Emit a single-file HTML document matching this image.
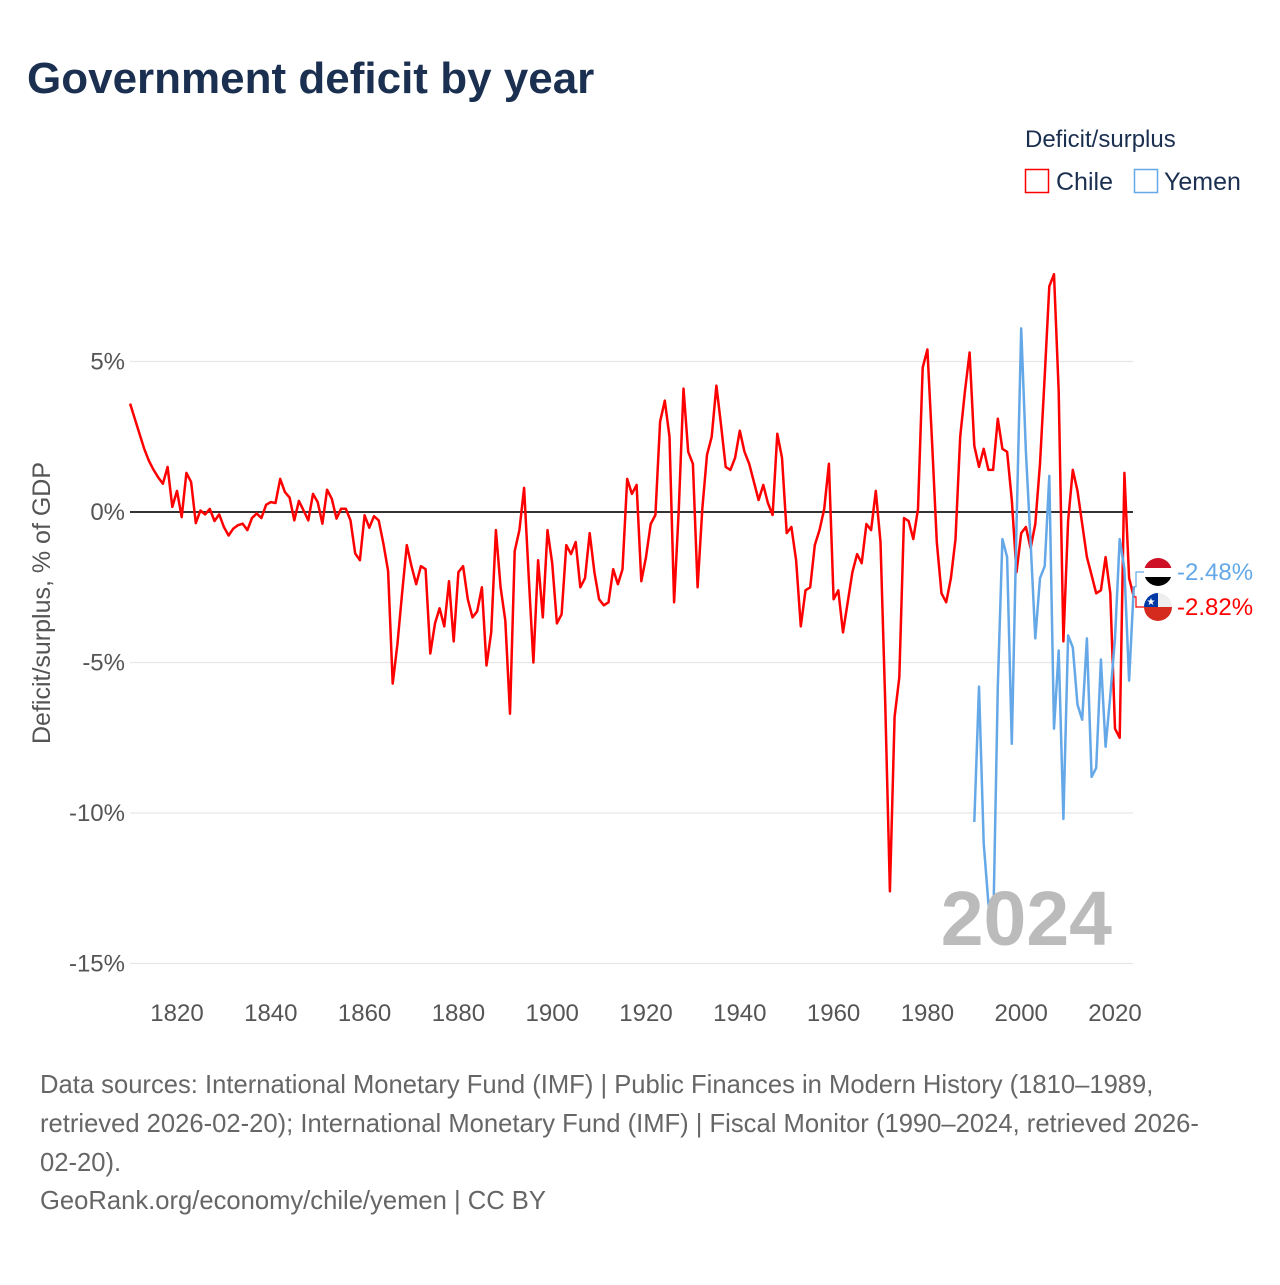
<!DOCTYPE html>
<html><head><meta charset="utf-8"><style>
body{margin:0;width:1280px;height:1280px;background:#fff;font-family:"Liberation Sans",sans-serif;overflow:hidden}
</style></head><body>
<svg id="chart" width="1280" height="1280" xmlns="http://www.w3.org/2000/svg" font-family="Liberation Sans, sans-serif">
<text x="27" y="93" font-size="44" font-weight="bold" fill="#1b3050">Government deficit by year</text>
<text x="1025" y="147" font-size="24" fill="#1b3050">Deficit/surplus</text>
<g><rect x="1025.5" y="169.5" width="23" height="23" fill="none" stroke="#ff0000" stroke-width="1.5"/><text x="1056" y="190" font-size="25" fill="#1b3050">Chile</text></g>
<g><rect x="1134.5" y="169.5" width="23" height="23" fill="none" stroke="#64a8e8" stroke-width="1.5"/><text x="1164" y="190" font-size="25" fill="#1b3050">Yemen</text></g>
<text transform="translate(50,603) rotate(-90)" text-anchor="middle" font-size="25" fill="#555">Deficit/surplus, % of GDP</text>
<g id="grid"></g><g id="lines"></g>
<text x="1112" y="945" text-anchor="end" font-size="77" font-weight="bold" fill="#bbb">2024</text>
<g id="ends"></g>
<g font-size="25.6" fill="#666">
<text x="40" y="1093">Data sources: International Monetary Fund (IMF) | Public Finances in Modern History (1810–1989,</text>
<text x="40" y="1132">retrieved 2026-02-20); International Monetary Fund (IMF) | Fiscal Monitor (1990–2024, retrieved 2026-</text>
<text x="40" y="1171">02-20).</text>
<text x="40" y="1209">GeoRank.org/economy/chile/yemen | CC BY</text>
</g>
</svg>
<script>
const yTicks=[5,0,-5,-10,-15];
const yTickLabels=["5%","0%","-5%","-10%","-15%"];
const xTicks=[1820,1840,1860,1880,1900,1920,1940,1960,1980,2000,2020];
const chileStart=1810;
const chileValues=[3.6,3.1,2.6,2.1,1.7,1.4,1.15,0.94,1.5,0.17,0.7,-0.17,1.3,1.0,-0.37,0.05,-0.08,0.1,-0.3,-0.08,-0.5,-0.78,-0.55,-0.44,-0.39,-0.6,-0.2,-0.05,-0.2,0.24,0.33,0.3,1.1,0.66,0.48,-0.28,0.37,0.05,-0.28,0.6,0.33,-0.39,0.74,0.44,-0.22,0.11,0.11,-0.28,-1.38,-1.6,-0.11,-0.52,-0.14,-0.28,-1.05,-1.96,-5.7,-4.4,-2.7,-1.1,-1.8,-2.4,-1.8,-1.9,-4.7,-3.7,-3.2,-3.8,-2.3,-4.3,-2.0,-1.8,-2.9,-3.5,-3.3,-2.5,-5.1,-4.0,-0.6,-2.5,-3.6,-6.7,-1.3,-0.6,0.8,
-2.2,-5.0,-1.6,-3.5,-0.6,-1.7,-3.7,-3.4,-1.1,-1.4,-1.0,-2.5,-2.2,-0.7,-2.0,-2.9,-3.1,-3.0,-1.9,-2.4,-1.9,1.1,0.6,0.9,-2.3,-1.5,-0.4,-0.1,3.0,3.7,2.5,-3.0,0.1,4.1,2.0,1.6,-2.5,0.1,1.9,2.5,4.2,2.9,1.5,1.4,1.8,2.7,2.0,1.6,1.0,0.4,0.9,0.3,-0.1,2.6,1.8,-0.7,-0.5,-1.6,-3.8,-2.6,-2.5,-1.1,-0.6,0.1,1.6,-2.9,-2.6,-4.0,-3.0,-2.0,-1.4,-1.7,-0.4,-0.6,0.7,-1.0,-6.3,-12.6,-6.8,-5.5,-0.2,-0.3,-0.9,0.1,
4.8,5.4,2.3,-1.0,-2.7,-3.0,-2.2,-0.9,2.5,4.0,5.3,2.2,1.5,2.1,1.4,1.4,3.1,2.1,2.0,0.4,-2.0,-0.7,-0.5,-1.2,-0.4,1.6,4.5,7.5,7.9,4.0,-4.3,-0.3,1.4,0.7,-0.4,-1.5,-2.1,-2.7,-2.6,-1.5,-2.7,-7.2,-7.5,1.3,-2.2,-2.82];
const yemenStart=1990;
const yemenValues=[-10.3,-5.8,-11.0,-13.0,-14.0,-5.8,-0.9,-1.5,-7.7,-0.5,6.1,2.0,-1.0,-4.2,-2.2,-1.8,1.2,-7.2,-4.6,-10.2,-4.1,-4.5,-6.4,-6.9,-4.2,-8.8,-8.5,-4.9,-7.8,-6.1,-4.2,-0.9,-1.9,-5.6,-2.48];
const NS="http://www.w3.org/2000/svg";
const xs=yr=>177+(yr-1820)*4.69;
const ys=v=>512-v*30.1;
function mk(tag,attrs,parent){const e=document.createElementNS(NS,tag);for(const k in attrs)e.setAttribute(k,attrs[k]);parent.appendChild(e);return e;}
const grid=document.getElementById('grid');
yTicks.forEach((t,i)=>{
 const l=mk('line',{x1:130,x2:1133,y1:ys(t),y2:ys(t),stroke:t===0?'#333':'#e6e6e6','stroke-width':t===0?2:1.2},grid);
 
 
 const tx=mk('text',{x:125,y:ys(t)+8,'text-anchor':'end','font-size':24,fill:'#555'},grid);
 tx.textContent=yTickLabels[i];
 
 
});
xTicks.forEach(t=>{
 const tx=mk('text',{x:xs(t),y:1021,'text-anchor':'middle','font-size':24,fill:'#555'},grid);
 tx.textContent=t;
 
 
});
function series(start,vals,color,name){
 const d=vals.map((v,i)=>(i?'L':'M')+xs(start+i).toFixed(1)+','+ys(v).toFixed(1)).join('');
 const p=mk('path',{d:d,fill:'none',stroke:color,'stroke-width':2.5,'stroke-linejoin':'round'},document.getElementById('lines'));
 
 
}
series(chileStart,chileValues,'#ff0000','chile-line');
series(yemenStart,yemenValues,'#64a8e8','yemen-line');
const ends=document.getElementById('ends');
function endLabel(vals,start,color,ly,name,flag){
 const v=vals[vals.length-1],x0=xs(start+vals.length-1),y0=ys(v);
 const c=mk('path',{d:`M${x0},${y0}H1136V${ly}H1144`,fill:'none',stroke:color,'stroke-width':1.2},ends);
 
 
 const g=mk('g',{},ends);
 
 
 const cp='cp'+name;
 const cl=mk('clipPath',{id:cp},g);mk('circle',{cx:1158,cy:ly,r:14},cl);
 const gg=mk('g',{'clip-path':`url(#${cp})`},g);
 if(flag==='yemen'){
  mk('rect',{x:1144,y:ly-14,width:28,height:10,fill:'#ce1126'},gg);
  mk('rect',{x:1144,y:ly-4,width:28,height:9,fill:'#fff'},gg);
  mk('rect',{x:1144,y:ly+5,width:28,height:10,fill:'#000'},gg);
 }else{
  mk('rect',{x:1144,y:ly-14,width:28,height:14,fill:'#eee'},gg);
  mk('rect',{x:1144,y:ly-14,width:14,height:14,fill:'#0039a6'},gg);
  mk('rect',{x:1144,y:ly,width:28,height:14,fill:'#d52b1e'},gg);
  const s=mk('text',{x:1151,y:ly-2,'text-anchor':'middle','font-size':10,fill:'#fff'},gg);s.textContent='★';
 }
 const t=mk('text',{x:1177,y:ly+8,'font-size':24,fill:color},ends);
 t.textContent=v.toFixed(2)+'%';
 
 
}
endLabel(yemenValues,yemenStart,'#64a8e8',572,'yemen-end','yemen');
endLabel(chileValues,chileStart,'#ff0000',607,'chile-end','chile');
</script>
</body></html>
